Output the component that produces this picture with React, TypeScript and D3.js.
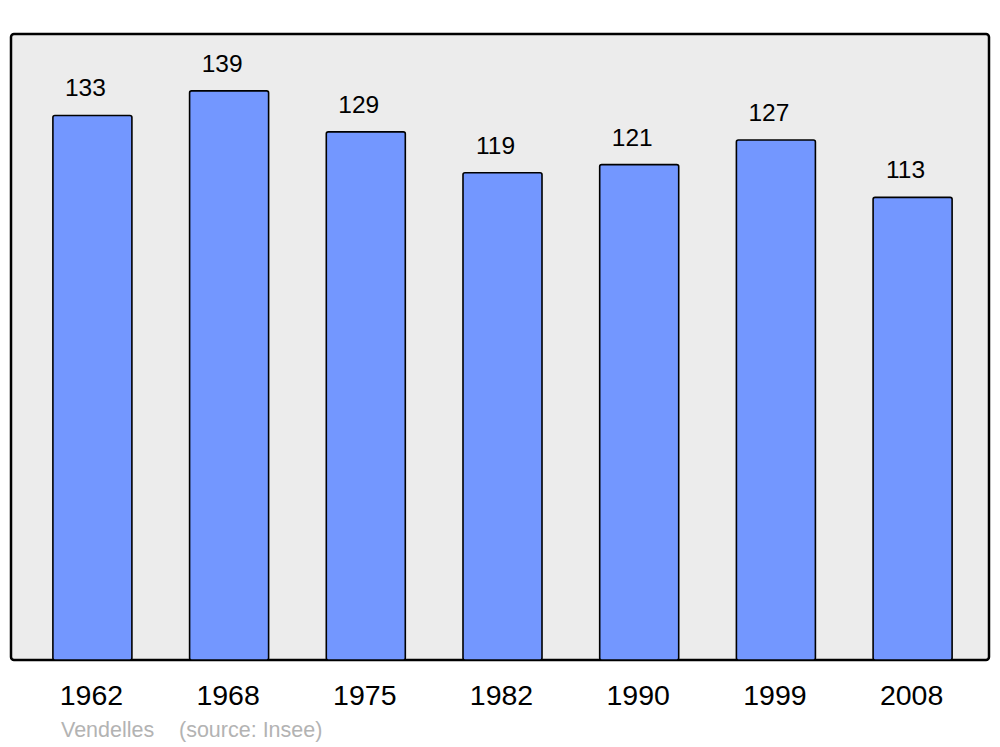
import React from "react";
import * as d3 from "d3";

const years = ["1962", "1968", "1975", "1982", "1990", "1999", "2008"];
const population = [133, 139, 129, 119, 121, 127, 113];
const commune = "Vendelles";
const sourceLabel = "(source: Insee)";

export default function App() {
  const W = 1000;
  const H = 747;
  const panel = { x: 11, y: 34, w: 978, h: 626 };
  const x = d3
    .scaleBand<string>()
    .domain(years)
    .range([22, 983])
    .paddingInner(0.422)
    .paddingOuter(0.226);
  const y = d3
    .scaleLinear()
    .domain([0, 152.9])
    .range([panel.y + panel.h, panel.y]);
  const font = "'Liberation Sans', Arial, sans-serif";
  return (
    <svg
      width={W}
      height={H}
      style={{ position: "absolute", left: 0, top: 0 }}
      fontFamily={font}
    >
      <rect x={0} y={0} width={W} height={H} fill="#ffffff" />
      <rect
        x={panel.x}
        y={panel.y}
        width={panel.w}
        height={panel.h}
        rx={3}
        fill="#ececec"
        stroke="#000"
        strokeWidth={2.5}
      />
      {years.map((yr, i) => {
        const bx = x(yr)!;
        const top = y(population[i]);
        const bw = x.bandwidth();
        return (
          <g key={yr}>
            <rect
              x={bx}
              y={top}
              width={bw}
              height={y(0) - top}
              rx={2}
              fill="#7397ff"
              stroke="#000"
              strokeWidth={1.6}
            />
            <text
              x={bx + bw / 2 - 7}
              y={top - 19}
              textAnchor="middle"
              fontSize={24.5}
              fill="#000"
            >
              {population[i]}
            </text>
            <text
              x={bx + bw / 2 - 1}
              y={705}
              textAnchor="middle"
              fontSize={28.5}
              fill="#000"
            >
              {yr}
            </text>
          </g>
        );
      })}
      <text x={61} y={737} fontSize={21.5} fill="#b3b3b3">
        {commune}
      </text>
      <text x={179} y={737} fontSize={21.5} fill="#b3b3b3">
        {sourceLabel}
      </text>
    </svg>
  );
}
